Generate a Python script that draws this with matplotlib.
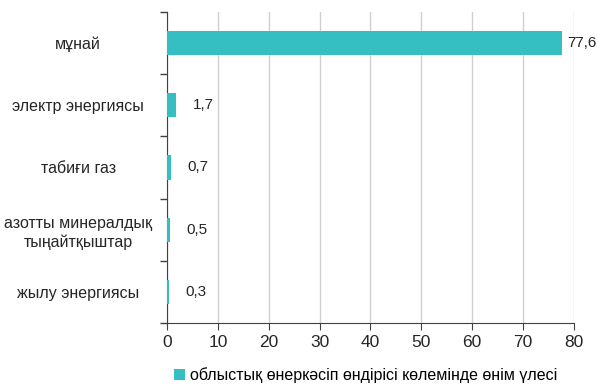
import matplotlib.pyplot as plt
import numpy as np

# chart data
categories = ["мұнай", "электр энергиясы", "табиғи газ",
              "азотты минералдық\nтыңайтқыштар", "жылу энергиясы"]
shares = [77.6, 1.7, 0.7, 0.5, 0.3]
value_labels = ["77,6", "1,7", "0,7", "0,5", "0,3"]
series_name = "облыстық өнеркәсіп өндірісі көлемінде өнім үлесі"
x_ticks = [0, 10, 20, 30, 40, 50, 60, 70, 80]

plt.rcParams["font.family"] = ["Liberation Sans", "DejaVu Sans"]

fig = plt.figure(figsize=(5.97, 3.84), dpi=100)
ax = fig.add_axes([0.28, 0.159, 0.681, 0.81])

bar_color = "#36BFC2"
ypos = np.arange(len(categories))
bars = ax.barh(ypos, shares, height=0.39, color=bar_color, label=series_name, zorder=3)
ax.set_ylim(len(categories) - 0.5, -0.5)
ax.set_xlim(0, 80)

# data labels (Excel puts the small ones further out)
offsets = [4, 12, 12, 12, 12]
for b, txt, off in zip(bars, value_labels, offsets):
    ax.annotate(txt, (b.get_width(), b.get_y() + b.get_height() / 2),
                xytext=(off, 0), textcoords="offset points",
                ha="left", va="center", fontsize=11, color="#262626")

ax.set_xticks(x_ticks)
ax.set_yticks(ypos)
ax.set_yticklabels(categories, fontsize=11.5, color="#262626",
                   linespacing=1.3, ha="center", multialignment="center")
ax.set_yticks(np.arange(-0.5, len(categories)), minor=True)
ax.tick_params(axis="y", which="major", length=0, pad=64)
ax.tick_params(axis="y", which="minor", length=5, color="#404040", width=1)
ax.tick_params(axis="x", length=5, color="#404040", labelsize=12.5,
               labelcolor="#262626", pad=4)

ax.grid(axis="x", color="#D0D0D0", linewidth=1, zorder=0)
for s in ["top", "right"]:
    ax.spines[s].set_visible(False)
ax.spines["left"].set_color("#404040")
ax.spines["bottom"].set_color("#404040")

fig.legend(loc="lower center", bbox_to_anchor=(0.612, -0.035), frameon=False,
           fontsize=11.5, handlelength=0.7, handleheight=0.7, handletextpad=0.3)

fig.savefig("out.png", dpi=100)
